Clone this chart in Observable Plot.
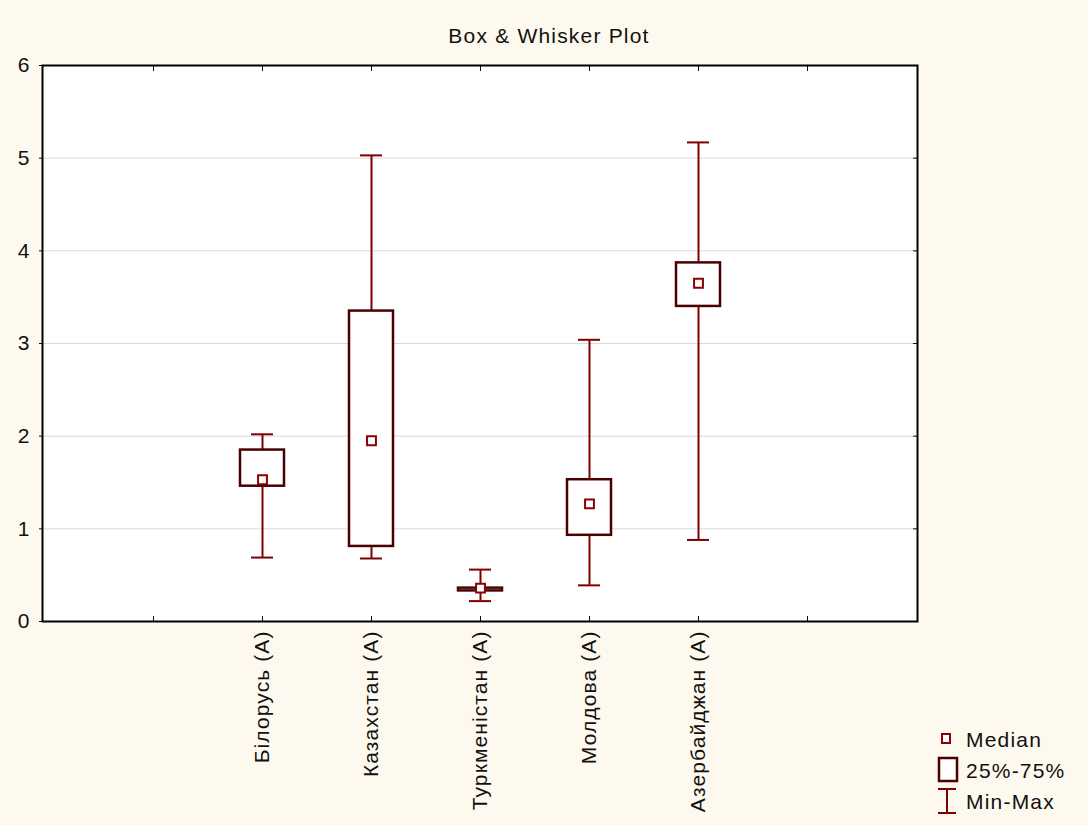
<!DOCTYPE html>
<html>
<head>
<meta charset="utf-8">
<script src="https://cdn.jsdelivr.net/npm/d3@7"></script>
<script src="https://cdn.jsdelivr.net/npm/@observablehq/plot@0.6"></script>
<style>
  body { margin: 0; background: #fdf9ee; font-family: "Liberation Sans", Arial, sans-serif; }
  #wrap { position: relative; width: 1088px; height: 825px; overflow: hidden; }
  #chart { position: absolute; left: 0; top: 0; }
  #overlay { position: absolute; left: 0; top: 0; pointer-events: none; }
  #overlay text { font-family: "Liberation Sans", Arial, sans-serif; font-size: 21px; letter-spacing: 1.2px; fill: #111; }
</style>
</head>
<body>
<div id="wrap">
  <div id="chart"></div>
  <svg id="overlay" width="1088" height="825">
    <text x="549" y="43" text-anchor="middle">Box &amp; Whisker Plot</text>
    <g transform="translate(930,725)">
      <rect x="12" y="9" width="8" height="9" fill="white" stroke="#8b0000" stroke-width="2"></rect>
      <text x="36" y="14" dominant-baseline="central">Median</text>
      <rect x="9" y="33" width="18" height="23" fill="white" stroke="#4a0000" stroke-width="2.5"></rect>
      <text x="36" y="45" dominant-baseline="central">25%-75%</text>
      <line x1="8" y1="64" x2="26" y2="64" stroke="#800000" stroke-width="2"></line>
      <line x1="17" y1="64" x2="17" y2="88" stroke="#800000" stroke-width="2"></line>
      <line x1="8" y1="88" x2="26" y2="88" stroke="#800000" stroke-width="2"></line>
      <text x="36" y="76" dominant-baseline="central">Min-Max</text>
    </g>
  </svg>
</div>
<script>
const countries = ["Білорусь (A)", "Казахстан (A)", "Туркменістан (A)", "Молдова (A)", "Азербайджан (A)"];
const minVals = [0.69, 0.68, 0.22, 0.39, 0.88];
const q1Vals  = [1.46, 0.81, 0.33, 0.93, 3.40];
const medVals = [1.53, 1.95, 0.36, 1.27, 3.65];
const q3Vals  = [1.85, 3.35, 0.36, 1.53, 3.87];
const maxVals = [2.02, 5.03, 0.56, 3.04, 5.17];
const yTicks = [0, 1, 2, 3, 4, 5, 6];
const gridTicks = [1, 2, 3, 4, 5];

const data = countries.map((c, i) => ({
  c, min: minVals[i], q1: q1Vals[i], med: medVals[i], q3: q3Vals[i], max: maxVals[i]
}));
const xDomain = ["pad-left", ...countries, "pad-right"];

const chart = Plot.plot({
  width: 1088,
  height: 825,
  marginLeft: 42,
  marginRight: 171,
  marginTop: 65,
  marginBottom: 204,
  style: { background: "transparent", fontFamily: "Liberation Sans, Arial, sans-serif", letterSpacing: "1.1px", color: "#111" },
  x: { type: "band", domain: xDomain, paddingInner: 0.6, paddingOuter: 0.8, axis: null },
  y: { domain: [0, 6], axis: null },
  marks: [
    Plot.frame({ fill: "white", stroke: null }),
    Plot.gridY({ ticks: gridTicks, stroke: "#d9d9d9", strokeOpacity: 1 }),
    Plot.axisY({ ticks: yTicks, anchor: "left", tickSize: 3, tickPadding: 9, fontSize: 21, tickFormat: d => String(d), label: null }),
    Plot.axisY({ ticks: gridTicks, anchor: "right", tickSize: -5, tickFormat: () => "", label: null }),
    Plot.axisX({ ticks: xDomain, anchor: "top", tickSize: -5, tickFormat: () => "", label: null }),
    Plot.axisX({ ticks: xDomain, anchor: "bottom", tickSize: -5, tickFormat: () => "", label: null }),
    Plot.axisX({ ticks: countries, anchor: "bottom", tickSize: 0, tickRotate: -90, tickPadding: 9, fontSize: 21, label: null }),
    Plot.ruleX(data, { x: "c", y1: "min", y2: "max", stroke: "#800000", strokeWidth: 2 }),
    Plot.tickY(data, { x: "c", y: "min", inset: 11, stroke: "#800000", strokeWidth: 2 }),
    Plot.tickY(data, { x: "c", y: "max", inset: 11, stroke: "#800000", strokeWidth: 2 }),
    Plot.barY(data, { x: "c", y1: "q1", y2: "q3", fill: "white", stroke: "#4a0000", strokeWidth: 2.5 }),
    Plot.dot(data, { x: "c", y: "med", symbol: "square", r: 5, fill: "white", stroke: "#8b0000", strokeWidth: 2 }),
    Plot.frame({ stroke: "black", strokeWidth: 2 })
  ]
});
document.getElementById("chart").appendChild(chart);
</script>
</body>
</html>
